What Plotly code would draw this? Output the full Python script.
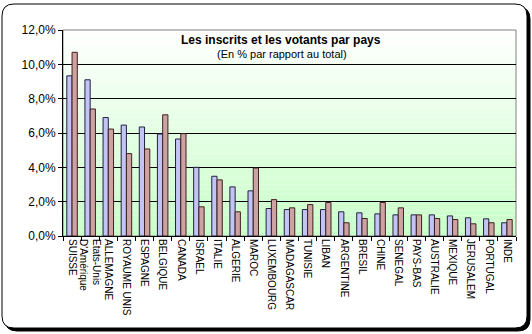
import plotly.graph_objects as go

pays = ["SUISSE", "Etats-Unis<br>D'Amérique", "ALLEMAGNE", "ROYAUME UNIS", "ESPAGNE",
        "BELGIQUE", "CANADA", "ISRAEL", "ITALIE", "ALGERIE", "MAROC", "LUXEMBOURG",
        "MADAGASCAR", "TUNISIE", "LIBAN", "ARGENTINE", "BRESIL", "CHINE", "SENEGAL",
        "PAYS-BAS", "AUSTRALIE", "MEXIQUE", "JERUSALEM", "PORTUGAL", "INDE"]
inscrits = [9.33, 9.10, 6.90, 6.46, 6.35, 5.94, 5.65, 4.00, 3.48, 2.86, 2.63, 1.60,
            1.54, 1.54, 1.54, 1.41, 1.35, 1.29, 1.23, 1.23, 1.23, 1.17, 1.06, 1.00, 0.77]
votants = [10.70, 7.40, 6.23, 4.80, 5.07, 7.06, 5.96, 1.70, 3.27, 1.41, 3.96, 2.12,
           1.64, 1.83, 1.95, 0.77, 1.02, 1.95, 1.64, 1.23, 1.02, 0.96, 0.71, 0.77, 0.96]
inscrits = [v / 100 for v in inscrits]
votants = [v / 100 for v in votants]

W, H = 532, 334
L, R, T, B = 63, 516, 30, 236

def px(x):
    return (x - L) / (R - L)

def py(y):
    return (B - y) / (B - T)

def rounded(x0, y0, x1, y1, r):
    pts = [
        f"M {px(x0 + r)} {py(y0)}",
        f"L {px(x1 - r)} {py(y0)}",
        f"Q {px(x1)} {py(y0)} {px(x1)} {py(y0 + r)}",
        f"L {px(x1)} {py(y1 - r)}",
        f"Q {px(x1)} {py(y1)} {px(x1 - r)} {py(y1)}",
        f"L {px(x0 + r)} {py(y1)}",
        f"Q {px(x0)} {py(y1)} {px(x0)} {py(y1 - r)}",
        f"L {px(x0)} {py(y0 + r)}",
        f"Q {px(x0)} {py(y0)} {px(x0 + r)} {py(y0)}",
        "Z",
    ]
    return " ".join(pts)

shapes = [
    dict(type="path", xref="paper", yref="paper", path=rounded(5, 7, 530, 331, 12),
         fillcolor="black", line=dict(color="black", width=1), layer="below"),
    dict(type="path", xref="paper", yref="paper", path=rounded(2, 4, 527, 328, 12),
         fillcolor="white", line=dict(color="black", width=1), layer="below"),
]

n = 40
for i in range(n):
    t = (i + 0.5) / n
    r = round(255 - (255 - 200) * t)
    g = 255
    b = round(255 - (255 - 200) * t)
    shapes.append(dict(type="rect", xref="x domain", yref="y domain",
                       x0=0, x1=1, y0=1 - (i + 1) / n, y1=1 - i / n,
                       fillcolor=f"rgb({r},{g},{b})", line=dict(width=0), layer="below"))
shapes.append(dict(type="rect", xref="x domain", yref="y domain", x0=0, x1=1, y0=0, y1=1,
                   line=dict(color="#808080", width=1), layer="below"))

fig = go.Figure()
fig.add_trace(go.Bar(x=pays, y=inscrits, name="Inscrits",
                     marker=dict(color="#C4C4F4", line=dict(color="#202040", width=1))))
fig.add_trace(go.Bar(x=pays, y=votants, name="Votants",
                     marker=dict(color="#CCA2A2", line=dict(color="#402020", width=1))))

fig.update_layout(
    width=W, height=H,
    margin=dict(l=L, r=W - R, t=T, b=H - B),
    paper_bgcolor="white",
    plot_bgcolor="rgba(0,0,0,0)",
    separators=", ",
    barmode="group", bargap=0.42, bargroupgap=0,
    showlegend=False,
    shapes=shapes,
    font=dict(family="Arial, Liberation Sans", color="black"),
    annotations=[
        dict(text="<b>Les inscrits et les votants par pays</b>", xref="paper", yref="paper",
             x=px(281), y=py(40), xanchor="center", yanchor="middle", showarrow=False,
             font=dict(size=12, color="black")),
        dict(text="(En % par rapport au total)", xref="paper", yref="paper",
             x=px(282), y=py(54), xanchor="center", yanchor="middle", showarrow=False,
             font=dict(size=11, color="black")),
    ],
)
fig.update_yaxes(range=[0, 0.12], dtick=0.02, tickformat=".1%",
                 showgrid=True, gridcolor="black", gridwidth=1,
                 showline=True, linecolor="black", linewidth=1,
                 ticks="outside", ticklen=4, tickcolor="black",
                 tickfont=dict(size=12), zeroline=False)
fig.update_xaxes(tickangle=90, tickson="boundaries", ticks="outside", ticklen=4,
                 tickcolor="black", showline=True, linecolor="black", linewidth=1,
                 tickfont=dict(size=10))

fig.write_html("out.html")
